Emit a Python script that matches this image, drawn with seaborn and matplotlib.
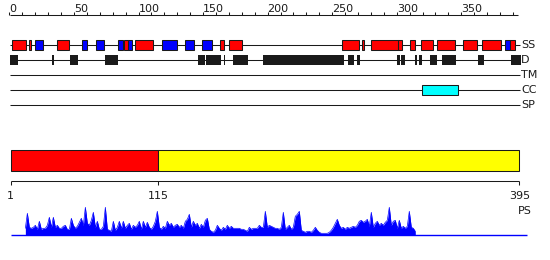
import numpy as np
import pandas as pd
import matplotlib
matplotlib.use("Agg")
import matplotlib.pyplot as plt
import seaborn as sns

# ---------------- data ----------------
ruler_ticks = list(range(0, 391, 10))
ruler_labels = [0, 50, 100, 150, 200, 250, 300, 350]

ss_start = [2, 15, 20, 37, 56, 67, 84, 89, 92, 97, 118, 136, 149, 163, 170,
            258, 273, 280, 301, 310, 319, 331, 351, 366, 384, 388]
ss_end = [13, 17, 26, 46, 60, 73, 88, 92, 95, 111, 130, 143, 157, 166, 180,
          271, 275, 301, 304, 314, 328, 345, 362, 381, 388, 392]
ss_type = ['H', 'H', 'E', 'H', 'E', 'E', 'E', 'H', 'E', 'H', 'E', 'E', 'E', 'H', 'H',
           'H', 'H', 'H', 'H', 'H', 'H', 'H', 'H', 'H', 'E', 'H']

d_start = [0.5, 33, 47, 74, 146, 152.3, 166.3, 173, 196.7, 262.3, 269, 300.2,
           303.6, 314.2, 317.3, 325.8, 335.1, 363.2, 388.3]
d_end = [6.6, 34.6, 53.1, 84.1, 151.7, 163.7, 167.3, 184.8, 259.4, 266.7, 271.8,
         302.3, 306.7, 315.5, 319.6, 331.0, 346.0, 367.6, 396.6]

cc_start = [319.4]
cc_end = [347.8]

track_names = ['SS', 'D', 'TM', 'CC', 'SP']

domain_start = [1, 115]
domain_end = [115, 395]
domain_colors = ['#ff0000', '#ffff00']
seq_ticks = [1, 115, 395]

prof_start, prof_end = 12.35, 314.4
prof_vals = [
    7, 22, 8, 7, 8, 10, 6, 14, 6, 7,
    7, 10, 18, 8, 18, 8, 10, 7, 7, 9,
    10, 6, 6, 17, 10, 7, 9, 13, 17, 10,
    28, 12, 10, 15, 23, 8, 14, 6, 6, 9,
    28, 6, 5, 4, 14, 5, 8, 14, 7, 14,
    7, 10, 12, 6, 10, 8, 10, 14, 6, 14,
    8, 13, 8, 6, 9, 14, 24, 8, 6, 9,
    7, 14, 10, 12, 8, 10, 11, 8, 10, 7,
    14, 16, 21, 8, 14, 10, 12, 7, 11, 8,
    15, 17, 6, 4, 3, 5, 10, 7, 5, 8,
    6, 10, 7, 9, 7, 7, 7, 7, 6, 6,
    5, 4, 8, 6, 7, 7, 7, 10, 8, 8,
    24, 8, 10, 9, 8,
    7, 7, 6, 8, 23, 6, 8, 10, 6, 8,
    19, 21, 24, 5, 4, 3, 4, 4, 3, 5,
    8, 5, 3, 2, 2, 2, 2, 3, 5, 8,
    12, 16, 10, 7, 8, 6, 8, 7, 8, 9,
    8, 10, 14, 15, 13, 14, 16, 9, 23, 8,
    12, 14, 10, 12, 10, 13, 15, 28, 10, 14,
    15, 7, 15, 7, 9, 7, 9, 24, 8, 7,
    4]

# ---------------- layout ----------------
sns.set_theme(style="white")
plt.rcParams['font.family'] = ['DejaVu Sans']

W, H = 550, 260
PXR = 1.291            # pixels per residue
X0 = 10.7              # pixel of residue 1
XMIN = 1 - X0 / PXR
XMAX = 1 + (W - X0) / PXR

fig = plt.figure(figsize=(5.5, 2.6), dpi=100)
fig.patch.set_facecolor('white')
ax = fig.add_axes([0, 0, 1, 1])
ax.set_xlim(XMIN, XMAX)
ax.set_ylim(H, 0)
ax.axis('off')

LW = 0.75
FS = 8

# ruler
ax.hlines(15, 0.5, 394, color='k', lw=LW)
ax.vlines(ruler_ticks, 12, 15, color='k', lw=LW)
for t in ruler_labels:
    ax.text(t, 11.5, str(t), ha='left', va='baseline', fontsize=FS, color='k')

# tracks
rows = {'SS': 45, 'D': 60, 'TM': 75, 'CC': 90, 'SP': 105}
for name in track_names:
    y = rows[name]
    ax.hlines(y, 0.5, 395.3, color='k', lw=LW, zorder=1)
    ax.text(396.3, y, name, ha='left', va='center', fontsize=FS, color='k')

ss_col = {'H': '#ff0000', 'E': '#0000ff'}
ax.barh([rows['SS']] * len(ss_start), np.array(ss_end) - np.array(ss_start),
        left=ss_start, height=10.7, color=[ss_col[t] for t in ss_type],
        edgecolor='k', linewidth=LW, zorder=2)
ax.barh([rows['D']] * len(d_start), np.array(d_end) - np.array(d_start),
        left=d_start, height=10.7, color='k', linewidth=0, zorder=2)
ax.barh([rows['CC']] * len(cc_start), np.array(cc_end) - np.array(cc_start),
        left=cc_start, height=10.7, color='#00ffff', edgecolor='k',
        linewidth=LW, zorder=2)

# domain bar
ax.barh([160.3] * len(domain_start), np.array(domain_end) - np.array(domain_start),
        left=domain_start, height=20.7, color=domain_colors,
        edgecolor='k', linewidth=LW, zorder=2)

# sequence axis
ax.hlines(180.7, 1, 395, color='k', lw=LW)
ax.vlines(seq_ticks, 180.7, 185.3, color='k', lw=LW)
for t in seq_ticks:
    ax.text(t, 196, str(t), ha='center', va='center', fontsize=FS, color='k')
ax.text(395 + 12.5 / PXR, 210.5, 'PS', ha='right', va='center', fontsize=FS, color='k')

# profile
base_px = 235.3
pax = fig.add_axes([0, (H - base_px) / H, 1, 30 / H])
pax.set_xlim(XMIN, XMAX)
pax.set_ylim(0, 30)
pax.axis('off')
df = pd.DataFrame({'pos': np.linspace(prof_start, prof_end, len(prof_vals)),
                   'val': prof_vals})
pax.fill_between(df['pos'], 0, df['val'], color='#0000ff', lw=0)
sns.lineplot(data=df, x='pos', y='val', ax=pax, color='#0000ff', lw=0.5)
pax.hlines(0, 1, 400.7, color='#0000ff', lw=1.0, clip_on=False)
pax.axis('off')

fig.savefig('out.png', dpi=100, facecolor='white')
